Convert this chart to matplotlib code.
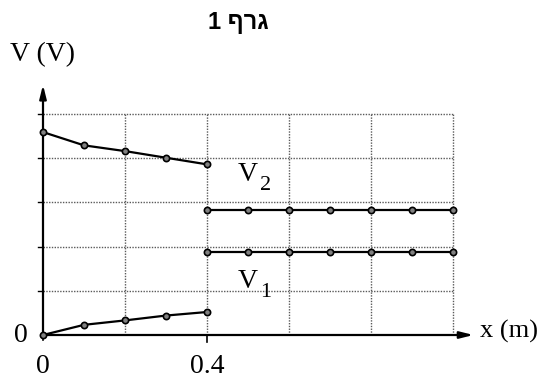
import matplotlib.pyplot as plt

# Readings from the graph (grid units on V axis)
x_left = [0.0, 0.1, 0.2, 0.3, 0.4]
v2_left = [4.59, 4.29, 4.16, 4.01, 3.86]
v1_left = [0.0, 0.23, 0.33, 0.44, 0.52]

x_right = [0.4, 0.5, 0.6, 0.7, 0.8, 0.9, 1.0]
v2_right = [2.83, 2.83, 2.83, 2.83, 2.83, 2.83, 2.83]
v1_right = [1.88, 1.88, 1.88, 1.88, 1.88, 1.88, 1.88]

grid_x = [0.2, 0.4, 0.6, 0.8, 1.0]
grid_y = [1, 2, 3, 4, 5]

title = "1 ףרג"  # "גרף 1" in visual order

plt.rcParams['font.family'] = ['Liberation Serif', 'DejaVu Serif']


def main():
    fig = plt.figure(figsize=(5.49, 3.83), dpi=100)
    ax = fig.add_axes([43 / 549, 48 / 383, 451 / 549, 256.4 / 383])
    ax.set_xlim(0, 1.1)
    ax.set_ylim(0, 5.8)
    ax.axis('off')

    # grid
    grid_style = dict(color='#5a5a5a', linestyle=(0, (1, 1)), lw=1.0, zorder=1)
    ax.vlines(grid_x, 0, 5, **grid_style)
    ax.hlines(grid_y, 0, 1.0, **grid_style)

    # axes with arrows
    arrow = dict(arrowstyle='-|>,head_length=0.8,head_width=0.2',
                 color='black', lw=1.6, shrinkA=0, shrinkB=0)
    ax.annotate('', xy=(0, 5.66), xytext=(0, 0), arrowprops=arrow,
                annotation_clip=False)
    ax.annotate('', xy=(1.05, 0), xytext=(0, 0), arrowprops=arrow,
                annotation_clip=False)

    # small ticks
    for gy in grid_y:
        ax.plot([-0.013, 0], [gy, gy], color='black', lw=1, clip_on=False)
    ax.plot([0.4, 0.4], [0, -0.16], color='black', lw=1.2, clip_on=False)
    ax.plot([0, 0], [0, -0.12], color='black', lw=1.2, clip_on=False)

    # curves
    marker = dict(color='black', lw=1.6, marker='o', markersize=4.5,
                  markerfacecolor='#808080', markeredgecolor='black',
                  markeredgewidth=1.2, zorder=3, clip_on=False)
    ax.plot(x_left, v2_left, **marker)
    ax.plot(x_left, v1_left, **marker)
    ax.plot(x_right, v2_right, **marker)
    ax.plot(x_right, v1_right, **marker)

    # texts
    ax.text(0.5, 3.62, 'V', fontsize=20, ha='center', va='center')
    ax.text(0.543, 3.38, '2', fontsize=16, ha='center', va='center')
    ax.text(0.5, 1.2, 'V', fontsize=20, ha='center', va='center')
    ax.text(0.543, 0.96, '1', fontsize=16, ha='center', va='center')
    ax.text(1.065, 0.08, 'x (m)', fontsize=19, ha='left', va='center')
    ax.text(-0.053, 0.0, '0', fontsize=20, ha='center', va='center')
    ax.text(0.0, -0.72, '0', fontsize=20, ha='center', va='center')
    ax.text(0.4, -0.72, '0.4', fontsize=20, ha='center', va='center')
    fig.text(42 / 549, 1 - 55 / 383, 'V (V)', fontsize=20,
             ha='center', va='center')
    fig.text(238 / 549, 1 - 22 / 383, title, fontsize=17, fontweight='bold',
             family=['Liberation Sans', 'DejaVu Sans'],
             ha='center', va='center')

    fig.savefig('out.png', dpi=100)


if __name__ == '__main__':
    main()
